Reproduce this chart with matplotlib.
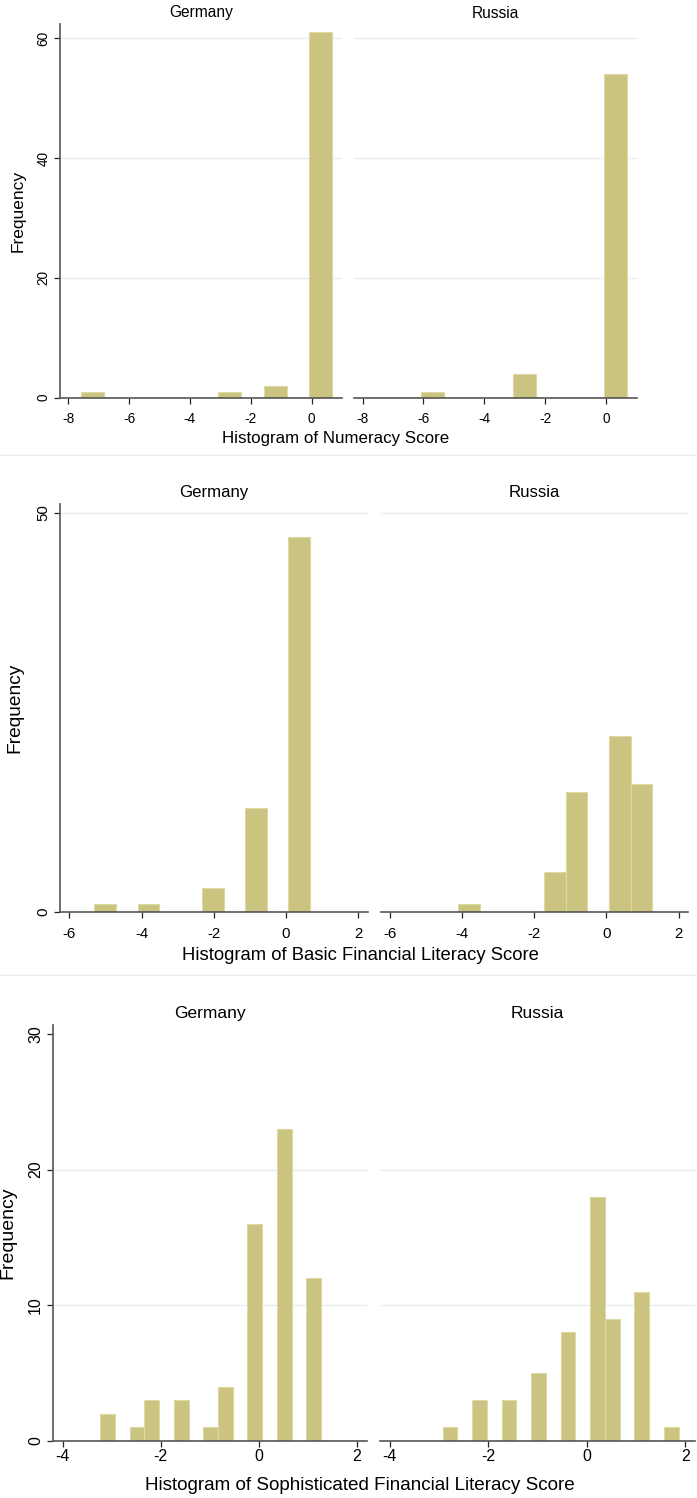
import matplotlib
matplotlib.use('Agg')
import matplotlib.pyplot as plt
from matplotlib.lines import Line2D

plt.rcParams['font.family'] = ['Liberation Sans', 'DejaVu Sans']
plt.rcParams['axes.unicode_minus'] = False

W, H = 697, 1498
countries = ['Germany', 'Russia']

# Numeracy score: bin left edges and frequencies
num_width = 0.75
num_de_left = [-7.57, -3.07, -1.57, -0.07]
num_de_count = [1, 1, 2, 61]
num_ru_left = [-6.07, -3.07, -0.07]
num_ru_count = [1, 4, 54]
num_xticks = [-8, -6, -4, -2, 0]
num_yticks = [0, 20, 40, 60]

# Basic financial literacy score
basic_width = 0.6
basic_de_left = [-5.31, -4.11, -2.32, -1.12, 0.07]
basic_de_count = [1, 1, 3, 13, 47]
basic_ru_left = [-4.12, -1.73, -1.13, 0.07, 0.67]
basic_ru_count = [1, 5, 15, 22, 16]
basic_xticks = [-6, -4, -2, 0, 2]
basic_yticks = [0, 50]

# Sophisticated financial literacy score
soph_width = 0.3
soph_de_left = [-3.23, -2.63, -2.33, -1.73, -1.13, -0.83, -0.23, 0.37, 0.97]
soph_de_count = [2, 1, 3, 3, 1, 4, 16, 23, 12]
soph_ru_left = [-2.93, -2.33, -1.73, -1.13, -0.53, 0.07, 0.37, 0.97, 1.57]
soph_ru_count = [1, 3, 3, 5, 8, 18, 9, 11, 1]
soph_xticks = [-4, -2, 0, 2]
soph_yticks = [0, 10, 20, 30]

BAR = '#cbc480'
EDGE = '#ddd8a4'
AXC = '#555555'
GRID = '#e6eef0'

fig = plt.figure(figsize=(W / 100, H / 100), dpi=100)


def px_axes(x0, y0, x1, y1):
    return fig.add_axes([x0 / W, 1 - y1 / H, (x1 - x0) / W, (y1 - y0) / H])


def draw_panel(boxes, lefts, counts, width, xticks, yticks, grids, xlim, ylim,
               title_y, title_size, tick_size, xpad,
               xlabel, xlabel_x, xlabel_y, xlabel_size, ylabel_x, ylabel_size):
    for i, (box, left, cnt) in enumerate(zip(boxes, lefts, counts)):
        ax = px_axes(*box)
        for g in grids:
            ax.axhline(g, color=GRID, lw=1, zorder=0)
        ax.bar(left, cnt, width=width, align='edge', color=BAR,
               edgecolor=EDGE, linewidth=0.8, zorder=2)
        ax.set_xlim(*xlim)
        ax.set_ylim(*ylim)
        ax.set_xticks(xticks)
        ax.set_yticks(yticks)
        for s in ['top', 'right']:
            ax.spines[s].set_visible(False)
        for s in ['bottom', 'left']:
            ax.spines[s].set_color(AXC)
            ax.spines[s].set_linewidth(1.2)
        ax.tick_params(axis='x', length=4, width=0.9, color='#222222',
                       labelsize=tick_size, pad=xpad)
        ax.tick_params(axis='y', length=4, width=0.9, color='#222222',
                       labelsize=tick_size, pad=3, labelrotation=90)
        for lab in ax.get_yticklabels():
            lab.set_va('center')
        if i == 1:
            ax.spines['left'].set_visible(False)
            ax.tick_params(axis='y', left=False, labelleft=False)
        cx = (box[0] + box[2]) / 2
        fig.text(cx / W, 1 - title_y / H, countries[i], ha='center',
                 va='center', fontsize=title_size)
    fig.text(xlabel_x / W, 1 - xlabel_y / H, xlabel, ha='center', va='center',
             fontsize=xlabel_size)
    yc = (boxes[0][1] + boxes[0][3]) / 2
    fig.text(ylabel_x / W, 1 - yc / H, 'Frequency', ha='center', va='center',
             rotation=90, fontsize=ylabel_size)


draw_panel([(60, 24, 342, 397.7), (354.3, 24, 636.7, 397.7)],
           [num_de_left, num_ru_left], [num_de_count, num_ru_count], num_width,
           num_xticks, num_yticks, [20, 40, 60], (-8.27, 1.0), (0, 62.4),
           13, 11.2, 9.8, 6.5,
           'Histogram of Numeracy Score', 336, 438, 12.2, 18, 12.5)

draw_panel([(60, 504, 367.7, 911.7), (380.7, 504, 688.3, 911.7)],
           [basic_de_left, basic_ru_left], [basic_de_count, basic_ru_count],
           basic_width, basic_xticks, basic_yticks, [50], (-6.26, 2.27),
           (0, 51.1), 492.5, 12.1, 10.8, 7,
           'Histogram of Basic Financial Literacy Score', 360.5, 955, 13.3,
           15, 13.8)

draw_panel([(52.7, 1025, 366.7, 1441), (380, 1025, 695, 1441)],
           [soph_de_left, soph_ru_left], [soph_de_count, soph_ru_count],
           soph_width, soph_xticks, soph_yticks, [10, 20], (-4.2, 2.2),
           (0, 30.66), 1013.5, 12.5, 11.5, 2,
           'Histogram of Sophisticated Financial Literacy Score', 360.3, 1485,
           13.6, 7.5, 14)

# faint separators between the three stacked graphs
for ysep in [455, 975]:
    fig.add_artist(Line2D([0, 1], [1 - ysep / H] * 2, transform=fig.transFigure,
                          color='#ebebeb', lw=1))

fig.savefig('out.png', dpi=100, facecolor='white')
